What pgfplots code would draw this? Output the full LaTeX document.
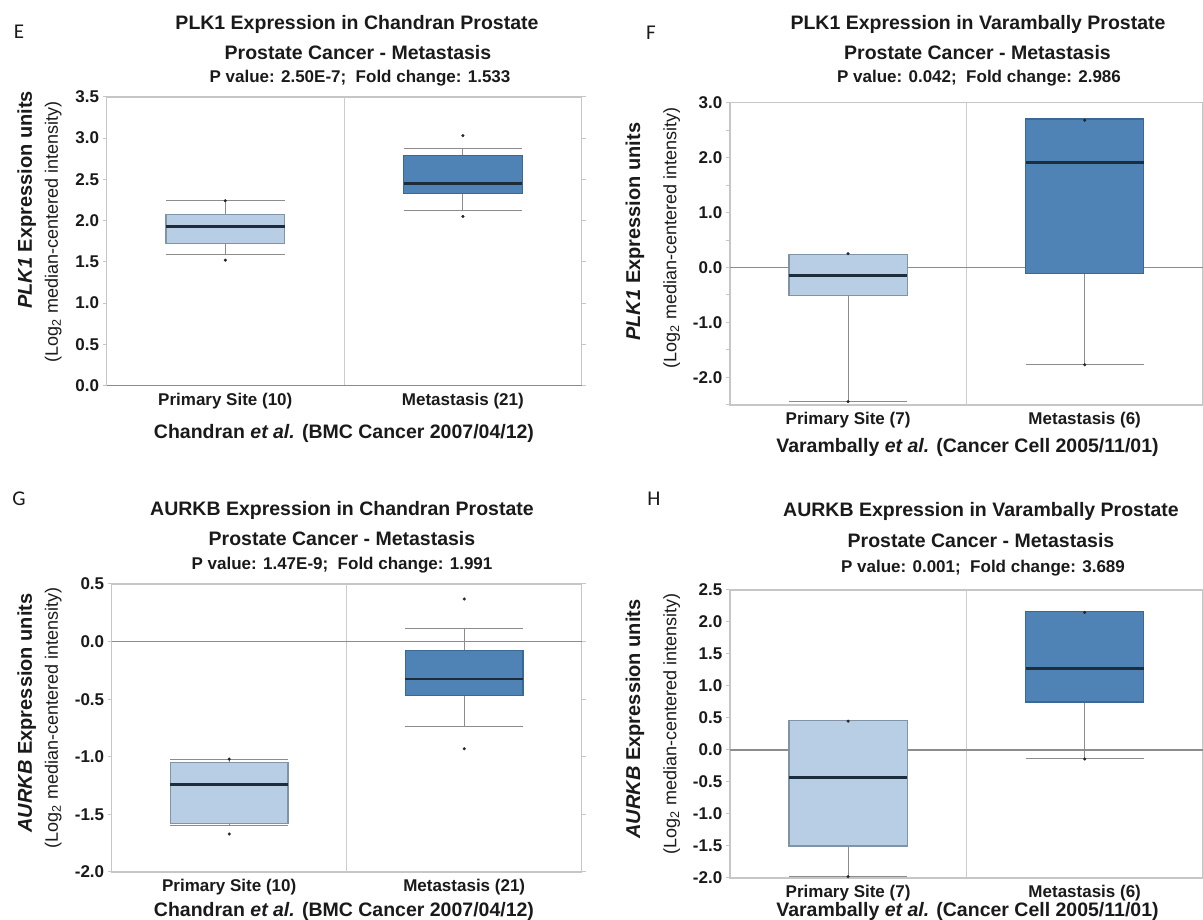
\documentclass[border=0pt]{standalone}
\usepackage{fontspec}
\setmainfont{Liberation Sans}
\newfontfamily\letterfont{Carlito}
\usepackage{pgfplots}
\pgfplotsset{compat=1.18}
\usepgfplotslibrary{statistics}

\definecolor{lightbox}{HTML}{B8CEE4}
\definecolor{darkbox}{HTML}{4F83B6}
\definecolor{lightedge}{HTML}{8193A6}
\definecolor{darkedge}{HTML}{3B6894}
\definecolor{medcol}{HTML}{1E2D3C}
\definecolor{framecol}{HTML}{C6C6C6}
\definecolor{txt}{HTML}{1A1A1A}
\newcommand{\fs}[1]{\fontsize{#1}{#1}\selectfont}

\pgfplotsset{
  onco/.style={
    scale only axis, anchor=south west, clip=false,
    xmin=-0.5, xmax=1.5,
    axis line style={draw=framecol, line width=1.5pt},
    xtick={0,1},
    xtick style={draw=none},
    xticklabel style={font=\bfseries\fs{17}, text=txt},
    yticklabel style={font=\bfseries\fs{17}, text=txt},
    ytick style={draw=framecol, line width=1pt},
    tick align=outside,
    major tick length=4pt, minor tick length=4pt,
    extra x ticks={0.5}, extra x tick labels={},
    extra x tick style={grid=major, major grid style={draw=framecol!90, line width=1pt}},
    extra y ticks={0}, extra y tick labels={},
    extra y tick style={grid=major, major grid style={draw=gray!90, line width=1.5pt}, major tick length=0pt},
  },
  bpbase/.style={draw=gray, line width=1pt, mark=*, mark size=1.4pt,
    mark options={fill=black!85, draw=black!85, line width=0.3pt},
    boxplot/draw direction=y,
    boxplot/box extend=0.5, boxplot/whisker extend=0.5,
    boxplot/every median/.style={draw=medcol, line width=2.6pt},
    boxplot/every whisker/.style={draw=gray!90, line width=1pt}},
  lightbp/.style={bpbase, boxplot/every box/.style={fill=lightbox, draw=lightedge, line width=1.2pt}},
  darkbp/.style={bpbase, boxplot/every box/.style={fill=darkbox, draw=darkedge, line width=1.2pt}},
}

\begin{document}
\begin{tikzpicture}
\useasboundingbox (0pt,0pt) rectangle (1203pt,920pt);

% ---------------- E ----------------
\begin{axis}[onco, at={(106.5pt,534.5pt)}, width=475.2pt, height=288.6pt,
  ymin=0, ymax=3.5,
  ytick={0,0.5,1,1.5,2,2.5,3,3.5},
  yticklabels={0.0,0.5,1.0,1.5,2.0,2.5,3.0,3.5},
  xticklabels={Primary Site (10),Metastasis (21)}]
\addplot[lightbp, boxplot prepared={draw position=0, median=1.93, upper quartile=2.07,
  lower quartile=1.72, upper whisker=2.24, lower whisker=1.59}]
  coordinates {(0,1.52) (0,2.24)};
\addplot[darkbp, boxplot prepared={draw position=1, median=2.45, upper quartile=2.79,
  lower quartile=2.33, upper whisker=2.87, lower whisker=2.12}]
  coordinates {(1,3.03) (1,2.05)};
\end{axis}

% ---------------- F ----------------
\begin{axis}[onco, at={(729.8pt,515.1pt)}, width=473.2pt, height=302.3pt,
  ymin=-2.5, ymax=3.0,
  ytick={-2,-1,0,1,2,3},
  yticklabels={-2.0,-1.0,0.0,1.0,2.0,3.0},
  minor ytick={-2.5,-1.5,-0.5,0.5,1.5,2.5},
  xticklabels={Primary Site (7),Metastasis (6)}]
\addplot[lightbp, boxplot prepared={draw position=0, median=-0.145, upper quartile=0.24,
  lower quartile=-0.51, upper whisker=0.24, lower whisker=-2.44}]
  coordinates {(0,0.25) (0,-2.44)};
\addplot[darkbp, boxplot prepared={draw position=1, median=1.91, upper quartile=2.70,
  lower quartile=-0.11, upper whisker=2.69, lower whisker=-1.76}]
  coordinates {(1,2.68) (1,-1.77)};
\end{axis}

% ---------------- G ----------------
\begin{axis}[onco, at={(111.7pt,48pt)}, width=470pt, height=288pt,
  ymin=-2.0, ymax=0.5,
  ytick={-2,-1.5,-1,-0.5,0,0.5},
  yticklabels={-2.0,-1.5,-1.0,-0.5,0.0,0.5},
  xticklabels={Primary Site (10),Metastasis (21)}]
\addplot[lightbp, boxplot prepared={draw position=0, median=-1.24, upper quartile=-1.05,
  lower quartile=-1.58, upper whisker=-1.02, lower whisker=-1.60}]
  coordinates {(0,-1.02) (0,-1.67)};
\addplot[darkbp, boxplot prepared={draw position=1, median=-0.325, upper quartile=-0.08,
  lower quartile=-0.465, upper whisker=0.115, lower whisker=-0.74}]
  coordinates {(1,0.37) (1,-0.93)};
\end{axis}

% ---------------- H ----------------
\begin{axis}[onco, at={(729.8pt,42pt)}, width=473.2pt, height=288pt,
  ymin=-2.0, ymax=2.5,
  ytick={-2,-1.5,-1,-0.5,0,0.5,1,1.5,2,2.5},
  yticklabels={-2.0,-1.5,-1.0,-0.5,0.0,0.5,1.0,1.5,2.0,2.5},
  xticklabels={Primary Site (7),Metastasis (6)}]
\addplot[lightbp, boxplot prepared={draw position=0, median=-0.43, upper quartile=0.46,
  lower quartile=-1.5, upper whisker=0.46, lower whisker=-1.97}]
  coordinates {(0,0.45) (0,-1.98)};
\addplot[darkbp, boxplot prepared={draw position=1, median=1.27, upper quartile=2.17,
  lower quartile=0.75, upper whisker=2.16, lower whisker=-0.14}]
  coordinates {(1,2.15) (1,-0.14)};
\end{axis}

% ---------------- texts ----------------
\begin{scope}[every node/.style={text=txt, inner sep=0pt}]
% panel letters
\node[font=\letterfont\fs{21}] at (19pt,888pt) {E};
\node[font=\letterfont\fs{21}] at (651pt,887pt) {F};
\node[font=\letterfont\fs{21}] at (19pt,421pt) {G};
\node[font=\letterfont\fs{21}] at (654pt,421pt) {H};
% titles E
\node[font=\bfseries\fs{19.5}] at (357pt,896pt) {PLK1 Expression in Chandran Prostate};
\node[font=\bfseries\fs{19.5}] at (358pt,867.3pt) {Prostate Cancer - Metastasis};
\node[font=\bfseries\fs{17}] at (360pt,842pt) {P value: 2.50E-7;\ \ Fold change: 1.533};
% titles F
\node[font=\bfseries\fs{19.5}] at (978pt,896pt) {PLK1 Expression in Varambally Prostate};
\node[font=\bfseries\fs{19.5}] at (977.5pt,867.3pt) {Prostate Cancer - Metastasis};
\node[font=\bfseries\fs{17}] at (979pt,842pt) {P value: 0.042;\ \ Fold change: 2.986};
% titles G
\node[font=\bfseries\fs{19.5}] at (342pt,409.7pt) {AURKB Expression in Chandran Prostate};
\node[font=\bfseries\fs{19.5}] at (342pt,381.5pt) {Prostate Cancer - Metastasis};
\node[font=\bfseries\fs{17}] at (342pt,354.6pt) {P value: 1.47E-9;\ \ Fold change: 1.991};
% titles H
\node[font=\bfseries\fs{19.5}] at (981pt,408.4pt) {AURKB Expression in Varambally Prostate};
\node[font=\bfseries\fs{19.5}] at (981pt,379pt) {Prostate Cancer - Metastasis};
\node[font=\bfseries\fs{17}] at (983pt,352pt) {P value: 0.001;\ \ Fold change: 3.689};
% x titles
\node[font=\bfseries\fs{19.5}] at (344pt,487pt) {Chandran \textit{et al.} (BMC Cancer 2007/04/12)};
\node[font=\bfseries\fs{19.5}] at (967.5pt,473pt) {Varambally \textit{et al.} (Cancer Cell 2005/11/01)};
\node[font=\bfseries\fs{19.5}] at (344pt,9pt) {Chandran \textit{et al.} (BMC Cancer 2007/04/12)};
\node[font=\bfseries\fs{19.5}] at (967.5pt,9pt) {Varambally \textit{et al.} (Cancer Cell 2005/11/01)};
% y titles
\node[font=\bfseries\fs{20}, rotate=90] at (26.7pt,720pt) {\textit{PLK1} Expression units};
\node[font=\fs{18}, rotate=90] at (53.3pt,688pt) {(Log\textsubscript{2} median-centered intensity)};
\node[font=\bfseries\fs{20}, rotate=90] at (635pt,688.3pt) {\textit{PLK1} Expression units};
\node[font=\fs{18}, rotate=90] at (671.7pt,682pt) {(Log\textsubscript{2} median-centered intensity)};
\node[font=\bfseries\fs{20}, rotate=90] at (26.7pt,207pt) {\textit{AURKB} Expression units};
\node[font=\fs{18}, rotate=90] at (53.3pt,202pt) {(Log\textsubscript{2} median-centered intensity)};
\node[font=\bfseries\fs{20}, rotate=90] at (635pt,201pt) {\textit{AURKB} Expression units};
\node[font=\fs{18}, rotate=90] at (671.7pt,196pt) {(Log\textsubscript{2} median-centered intensity)};
\end{scope}
\end{tikzpicture}
\end{document}
